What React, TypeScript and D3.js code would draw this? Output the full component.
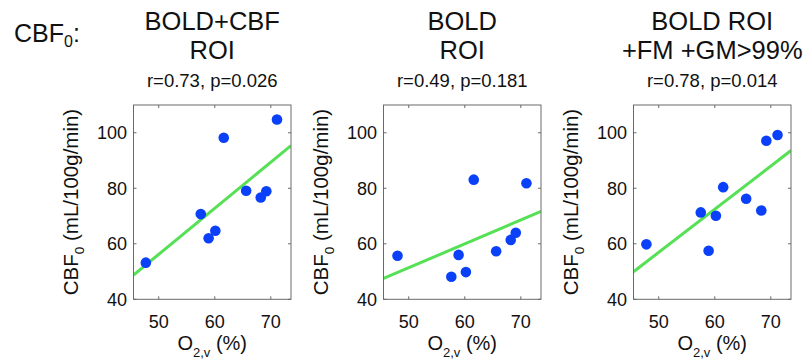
import React from "react";
import * as d3 from "d3";

// Venous oxygenation (%) per subject, one array per ROI definition
const o2vBoldCbf = [47.7, 57.5, 58.9, 60.1, 61.6, 65.6, 68.2, 69.2, 71.1];
const o2vBold = [48.0, 57.6, 58.9, 60.2, 61.6, 65.6, 68.2, 69.1, 71.0];
const o2vBoldFmGm = [47.8, 57.5, 58.9, 60.2, 61.5, 65.6, 68.3, 69.2, 71.2];

// Baseline CBF (mL/100g/min) per subject
const cbfBoldCbf = [53.2, 70.7, 62.0, 64.7, 98.2, 79.1, 76.7, 78.9, 104.8];
const cbfBold = [55.7, 48.1, 56.0, 49.8, 83.1, 57.3, 61.4, 64.0, 81.8];
const cbfBoldFmGm = [59.8, 71.3, 57.5, 70.1, 80.4, 76.2, 72.0, 97.1, 99.2];

const titleLine1 = ["BOLD+CBF", "BOLD", "BOLD ROI"];
const titleLine2 = ["ROI", "ROI", "+FM +GM>99%"];
const statLabels = ["r=0.73, p=0.026", "r=0.49, p=0.181", "r=0.78, p=0.014"];

const xTicks = [50, 60, 70];
const yTicks = [40, 60, 80, 100];
const xDomain = [45.5, 73.6];
const yDomain = [40, 110];

const panels = [
  { xs: o2vBoldCbf, ys: cbfBoldCbf },
  { xs: o2vBold, ys: cbfBold },
  { xs: o2vBoldFmGm, ys: cbfBoldFmGm },
];

const FONT = "'Liberation Sans', Arial, Helvetica, sans-serif";
const DOT = "#0a40f8";
const FIT = "#55e055";
const AXIS = "#6a6a6a";

const W = 806;
const H = 361;
const plotW = 157.5;
const plotTop = 105;
const plotBottom = 299.3;
const firstLeft = 133.5;
const panelStep = 250;

function leastSquares(xs: number[], ys: number[]) {
  const mx = d3.mean(xs) as number;
  const my = d3.mean(ys) as number;
  let sxy = 0;
  let sxx = 0;
  xs.forEach((x, i) => {
    sxy += (x - mx) * (ys[i] - my);
    sxx += (x - mx) * (x - mx);
  });
  const slope = sxy / sxx;
  return { slope, intercept: my - slope * mx };
}

function Panel({ idx }: { idx: number }) {
  const { xs, ys } = panels[idx];
  const left = firstLeft + idx * panelStep;
  const right = left + plotW;
  const x = d3.scaleLinear().domain(xDomain).range([left, right]);
  const y = d3.scaleLinear().domain(yDomain).range([plotBottom, plotTop]);
  const fit = leastSquares(xs, ys);
  const fitLine = d3
    .line<number>()
    .x((v) => x(v))
    .y((v) => y(fit.intercept + fit.slope * v));
  const cx = (left + right) / 2;
  const clipId = `clip-${idx}`;
  const tickLen = 3;

  return (
    <g>
      <defs>
        <clipPath id={clipId}>
          <rect x={left} y={plotTop} width={plotW} height={plotBottom - plotTop} />
        </clipPath>
      </defs>

      {/* titles */}
      <text x={cx} y={30} textAnchor="middle" fontSize={25.5} fontFamily={FONT} fill="#111">
        {titleLine1[idx]}
      </text>
      <text x={cx} y={59} textAnchor="middle" fontSize={25.5} fontFamily={FONT} fill="#111">
        {titleLine2[idx]}
      </text>
      <text x={cx} y={87} textAnchor="middle" fontSize={18.5} fontFamily={FONT} fill="#111">
        {statLabels[idx]}
      </text>

      {/* regression line */}
      <path
        d={fitLine(xDomain) ?? ""}
        fill="none"
        stroke={FIT}
        strokeWidth={3}
        clipPath={`url(#${clipId})`}
      />

      {/* data points */}
      {xs.map((v, i) => (
        <circle key={i} cx={x(v)} cy={y(ys[i])} r={5.3} fill={DOT} />
      ))}

      {/* axes box and ticks */}
      <rect
        x={left}
        y={plotTop}
        width={plotW}
        height={plotBottom - plotTop}
        fill="none"
        stroke={AXIS}
        strokeWidth={1}
      />
      {xTicks.map((t) => (
        <g key={`xt${t}`}>
          <line x1={x(t)} x2={x(t)} y1={plotBottom} y2={plotBottom - tickLen} stroke={AXIS} />
          <line x1={x(t)} x2={x(t)} y1={plotTop} y2={plotTop + tickLen} stroke={AXIS} />
          <text x={x(t)} y={328} textAnchor="middle" fontSize={18} fontFamily={FONT} fill="#111">
            {t}
          </text>
        </g>
      ))}
      {yTicks.map((t) => (
        <g key={`yt${t}`}>
          <line x1={left} x2={left + tickLen} y1={y(t)} y2={y(t)} stroke={AXIS} />
          <line x1={right} x2={right - tickLen} y1={y(t)} y2={y(t)} stroke={AXIS} />
          <text
            x={left - 6.5}
            y={y(t) + 6.5}
            textAnchor="end"
            fontSize={18}
            fontFamily={FONT}
            fill="#111"
          >
            {t}
          </text>
        </g>
      ))}

      {/* x axis label */}
      <text x={cx} y={350} textAnchor="middle" fontSize={20} fontFamily={FONT} fill="#111">
        O
        <tspan fontSize={13} dy={7}>
          2,v
        </tspan>
        <tspan dy={-7}> (%)</tspan>
      </text>

      {/* y axis label */}
      <text
        transform={`translate(${left - 56},${202}) rotate(-90)`}
        textAnchor="middle"
        fontSize={20.5}
        fontFamily={FONT}
        fill="#111"
      >
        CBF
        <tspan fontSize={13.5} dy={6}>
          0
        </tspan>
        <tspan dy={-6}> (mL/100g/min)</tspan>
      </text>
    </g>
  );
}

export default function App() {
  return (
    <svg
      width={W}
      height={H}
      viewBox={`0 0 ${W} ${H}`}
      style={{ position: "absolute", left: 0, top: 0, display: "block", background: "#fff" }}
    >
      <rect x={0} y={0} width={W} height={H} fill="#fff" />
      <text x={14} y={42} fontSize={25} fontFamily={FONT} fill="#111">
        CBF
        <tspan fontSize={16} dy={5}>
          0
        </tspan>
        <tspan dy={-5}>:</tspan>
      </text>
      {panels.map((_, i) => (
        <Panel key={i} idx={i} />
      ))}
    </svg>
  );
}
